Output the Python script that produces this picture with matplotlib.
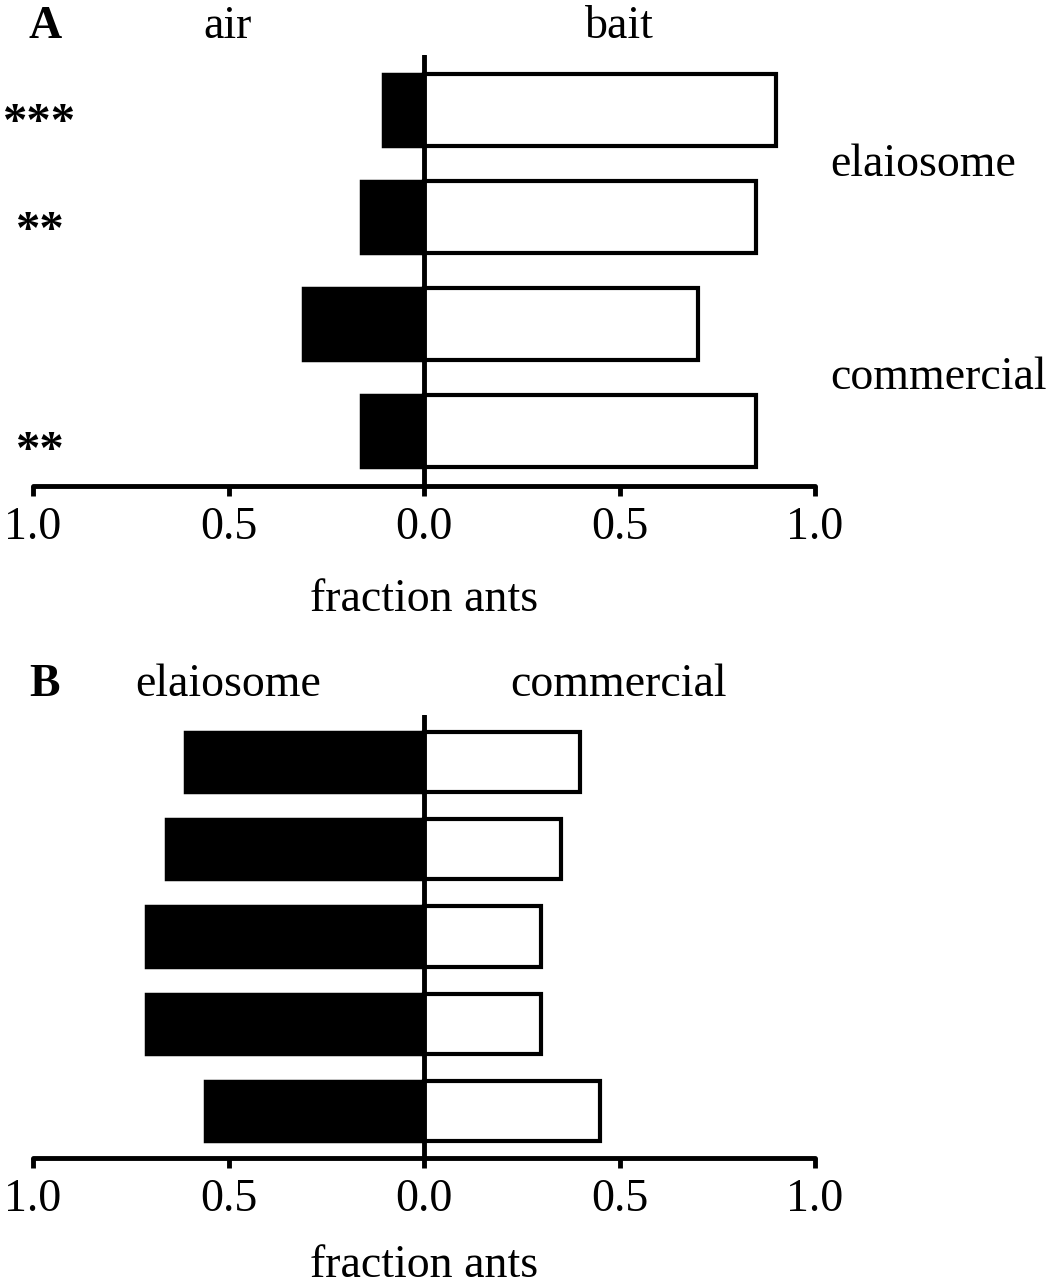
import matplotlib
matplotlib.use('Agg')
import matplotlib.pyplot as plt

plt.rcParams['font.family'] = ['Liberation Serif', 'DejaVu Serif']

# panel A: fraction of ants choosing air vs bait
a_air = [0.105, 0.16, 0.31, 0.16]
a_bait = [0.90, 0.85, 0.70, 0.85]
a_stars = ['***', '**', '', '**']
a_groups = ['elaiosome', 'commercial']

# panel B: elaiosome vs commercial
b_elaiosome = [0.61, 0.66, 0.71, 0.71, 0.56]
b_commercial = [0.40, 0.35, 0.30, 0.30, 0.45]

tick_pos = [-1.0, -0.5, 0.0, 0.5, 1.0]
tick_lab = ['1.0', '0.5', '0.0', '0.5', '1.0']

W, H = 1055, 1285
FS = 33
LW = 3.5


def px(x, y):
    return x / W, 1 - y / H


def style(ax, n, pad_units):
    ax.set_xlim(-1, 1)
    ax.set_ylim(n - 1 + pad_units, -pad_units)
    for s in ['left', 'top', 'right']:
        ax.spines[s].set_visible(False)
    ax.spines['bottom'].set_linewidth(LW)
    ax.spines['bottom'].set_capstyle('round')
    ax.set_yticks([])
    ax.set_xticks(tick_pos)
    ax.set_xticklabels(tick_lab, fontsize=FS)
    ax.tick_params(axis='x', direction='out', length=7, width=LW, pad=8)
    ax.axvline(0, color='black', lw=LW, zorder=5, solid_capstyle='round')
    ax.patch.set_visible(False)


fig = plt.figure(figsize=(W / 100, H / 100), dpi=100)

# ---- panel A
axA = fig.add_axes([33 / W, 1 - 486 / H, 782 / W, (486 - 55) / H])
ya = range(len(a_air))
axA.barh(ya, [-v for v in a_air], height=0.67, color='black', edgecolor='black', lw=2.5)
axA.barh(ya, a_bait, height=0.67, color='white', edgecolor='black', lw=3)
style(axA, len(a_air), 0.514)

fig.text(*px(45, 27), 'A', fontsize=FS, fontweight='bold', ha='center', va='center')
fig.text(*px(228, 27), 'air', fontsize=FS, ha='center', va='center')
fig.text(*px(619, 27), 'bait', fontsize=FS, ha='center', va='center')
fig.text(*px(830, 165), a_groups[0], fontsize=FS, ha='left', va='center')
fig.text(*px(830, 378), a_groups[1], fontsize=FS, ha='left', va='center')
star_y = [124, 232, 0, 452]
for s, yy in zip(a_stars, star_y):
    if s:
        fig.text(*px(40, yy), s, fontsize=FS + 2, fontweight='bold',
                 ha='center', va='center')
fig.text(*px(424, 600), 'fraction ants', fontsize=FS, ha='center', va='center')

# ---- panel B
axB = fig.add_axes([33 / W, 1 - 1158 / H, 782 / W, (1158 - 715) / H])
yb = range(len(b_elaiosome))
axB.barh(yb, [-v for v in b_elaiosome], height=0.69, color='black', edgecolor='black', lw=2.5)
axB.barh(yb, b_commercial, height=0.69, color='white', edgecolor='black', lw=3)
style(axB, len(b_elaiosome), 0.539)

fig.text(*px(45, 685), 'B', fontsize=FS, fontweight='bold', ha='center', va='center')
fig.text(*px(228, 685), 'elaiosome', fontsize=FS, ha='center', va='center')
fig.text(*px(619, 685), 'commercial', fontsize=FS, ha='center', va='center')
fig.text(*px(424, 1266), 'fraction ants', fontsize=FS, ha='center', va='center')

fig.savefig('out.png', dpi=100)
